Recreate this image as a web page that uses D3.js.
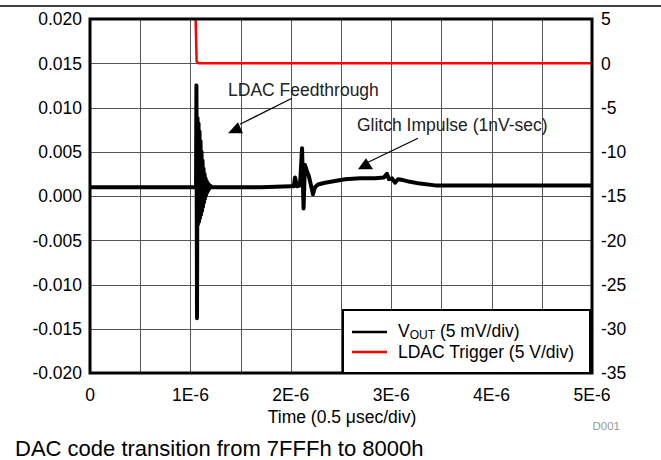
<!DOCTYPE html>
<html><head><meta charset="utf-8">
<script src="https://cdn.jsdelivr.net/npm/d3@7"></script>
<style>
html,body{margin:0;padding:0;background:#fff;}
svg{display:block;font-family:"Liberation Sans",Arial,sans-serif;}
</style></head>
<body>
<svg id="chart" width="661" height="460"></svg>
<script>
// ---- data (time in microseconds) ----
const xTicks = [0, 1, 2, 3, 4, 5];
const xTickLabels = ["0", "1E-6", "2E-6", "3E-6", "4E-6", "5E-6"];
const leftTicks = [0.020, 0.015, 0.010, 0.005, 0.000, -0.005, -0.010, -0.015, -0.020];
const rightTicks = [5, 0, -5, -10, -15, -20, -25, -30, -35];

const voutTime = [0, 0.3, 0.6, 0.9, 1.05, 1.056, 1.060, 1.066, 1.071, 1.076, 1.081, 1.086, 1.091, 1.096, 1.101, 1.106,
  1.111, 1.116, 1.121, 1.126, 1.131, 1.136, 1.141, 1.146, 1.151, 1.156, 1.161, 1.166, 1.171, 1.176, 1.181, 1.186,
  1.195, 1.215, 1.4, 1.7, 2.0, 2.030, 2.042, 2.062, 2.092, 2.112, 2.127, 2.141, 2.161, 2.181, 2.201, 2.221, 2.241,
  2.271, 2.341, 2.44, 2.54, 2.69, 2.84, 2.928, 2.958, 2.978, 3.008, 3.038, 3.068, 3.118, 3.187, 3.287, 3.436,
  3.586, 4.0, 4.5, 5.0];
const voutValue = [0.0010, 0.0010, 0.0010, 0.0010, 0.0010, 0.0010, 0.0125, -0.0138, 0.0088, -0.0032, 0.0082, -0.0029,
  0.0073, -0.0025, 0.0062, -0.0021, 0.0050, -0.0017, 0.0040, -0.0012, 0.0031, -0.0007, 0.0025, -0.0003, 0.0020,
  0.0001, 0.0017, 0.0004, 0.0015, 0.0006, 0.0013, 0.0008, 0.0012, 0.0010, 0.0010, 0.0010, 0.0011, 0.0011, 0.0021,
  0.0011, 0.0012, 0.0054, -0.0014, 0.0035, 0.0028, 0.0022, 0.0012, 0.0002, 0.0010, 0.0013, 0.0015, 0.0017, 0.0019,
  0.0020, 0.0020, 0.0021, 0.0025, 0.0019, 0.0020, 0.0015, 0.0019, 0.0018, 0.0016, 0.0014, 0.0012, 0.0012, 0.0012,
  0.0012, 0.0012];

const trigTime = [0, 1.050, 1.062, 1.080, 5.0];
const trigValue = [6, 6, 0.2, 0, 0];

const seriesNames = ["OUT (5 mV/div)", "LDAC Trigger (5 V/div)"];
const seriesColors = ["#000000", "#ff0000"];

// annotations (data units)
const annLdac = {text: "LDAC Feedthrough", textAt: [1.375, 0.0113], from: [2.012, 0.01105], to: [1.494, 0.00811],
  tri: [[1.375, 0.0071], [1.524, 0.0071], [1.474, 0.00834]]};
const annGlitch = {text: "Glitch Impulse (1nV-sec)", textAt: [2.659, 0.0073], from: [3.267, 0.00653], to: [2.769, 0.00382],
  tri: [[2.669, 0.00303], [2.819, 0.00303], [2.749, 0.00427]]};

// ---- layout ----
const svg = d3.select("#chart");
const L = 90, R = 592, T = 19, B = 373;
const x = d3.scaleLinear().domain([0, 5]).range([L, R]);
const yL = d3.scaleLinear().domain([-0.020, 0.020]).range([B, T]);
const yR = d3.scaleLinear().domain([-35, 5]).range([B, T]);
const FS = 17.5;

// top rule
svg.append("line").attr("x1", 0).attr("x2", 661).attr("y1", 6).attr("y2", 6)
  .attr("stroke", "#000").attr("stroke-width", 1.5);

// grid
const grid = svg.append("g").attr("stroke", "#555").attr("stroke-width", 1);
d3.range(0.5, 5, 0.5).forEach(t => {
  grid.append("line").attr("x1", Math.round(x(t)) + 0.5).attr("x2", Math.round(x(t)) + 0.5)
    .attr("y1", T).attr("y2", B);
});
leftTicks.slice(1, -1).forEach(v => {
  grid.append("line").attr("y1", Math.round(yL(v)) + 0.5).attr("y2", Math.round(yL(v)) + 0.5)
    .attr("x1", L).attr("x2", R);
});

// clip
svg.append("clipPath").attr("id", "clip").append("rect")
  .attr("x", L).attr("y", T).attr("width", R - L).attr("height", B - T);

// trigger line
const trig = trigTime.map((t, i) => [t, trigValue[i]]);
svg.append("path").datum(trig).attr("clip-path", "url(#clip)")
  .attr("d", d3.line().x(d => x(d[0])).y(d => yR(d[1])))
  .attr("fill", "none").attr("stroke", seriesColors[1]).attr("stroke-width", 2.5);

// vout line
const vout = voutTime.map((t, i) => [t, voutValue[i]]);
svg.append("path").datum(vout).attr("clip-path", "url(#clip)")
  .attr("d", d3.line().x(d => x(d[0])).y(d => yL(d[1])))
  .attr("fill", "none").attr("stroke", seriesColors[0]).attr("stroke-width", 4)
  .attr("stroke-linejoin", "round").attr("stroke-linecap", "butt");

// annotations
[annLdac, annGlitch].forEach(a => {
  svg.append("text").attr("x", x(a.textAt[0])).attr("y", yL(a.textAt[1]))
    .attr("font-size", FS).attr("fill", "#222").text(a.text);
  svg.append("line").attr("x1", x(a.from[0])).attr("y1", yL(a.from[1]))
    .attr("x2", x(a.to[0])).attr("y2", yL(a.to[1])).attr("stroke", "#000").attr("stroke-width", 1.2);
  svg.append("path").attr("d", "M" + a.tri.map(p => [x(p[0]), yL(p[1])].join(",")).join("L") + "Z")
    .attr("fill", "#000");
});

// frame
svg.append("rect").attr("x", L).attr("y", T).attr("width", R - L).attr("height", B - T)
  .attr("fill", "none").attr("stroke", "#000").attr("stroke-width", 3);

// left axis labels
svg.append("g").selectAll("text").data(leftTicks).join("text")
  .attr("x", L - 8).attr("y", d => yL(d)).attr("dy", "0.36em")
  .attr("text-anchor", "end").attr("font-size", FS).attr("fill", "#000")
  .text(d => d.toFixed(3));
// right axis labels
svg.append("g").selectAll("text").data(rightTicks).join("text")
  .attr("x", R + 9).attr("y", d => yR(d)).attr("dy", "0.36em")
  .attr("text-anchor", "start").attr("font-size", FS).attr("fill", "#000")
  .text(d => String(d));
// x axis labels
svg.append("g").selectAll("text").data(xTicks).join("text")
  .attr("x", d => x(d)).attr("y", 401)
  .attr("text-anchor", "middle").attr("font-size", FS).attr("fill", "#000")
  .text((d, i) => xTickLabels[i]);

// axis title
const tt = svg.append("text").attr("x", (L + R) / 2 + 1).attr("y", 423).attr("text-anchor", "middle")
  .attr("font-size", FS).attr("fill", "#000");
tt.append("tspan").text("Time (0.5 ");
tt.append("tspan").text("μ");
tt.append("tspan").text("sec/div)");

svg.append("text").attr("x", 620).attr("y", 430).attr("text-anchor", "end")
  .attr("font-size", 11.5).attr("fill", "#999").text("D001");

svg.append("text").attr("x", 15).attr("y", 456).attr("font-size", 22).attr("fill", "#000")
  .text("DAC code transition from 7FFFh to 8000h");

// legend
const lg = svg.append("g");
lg.append("rect").attr("x", 343).attr("y", 310).attr("width", 247).attr("height", B - 310)
  .attr("fill", "#fff").attr("stroke", "#000").attr("stroke-width", 2);
[332, 352].forEach((yy, i) => {
  lg.append("line").attr("x1", 352).attr("x2", 387).attr("y1", yy).attr("y2", yy)
    .attr("stroke", seriesColors[i]).attr("stroke-width", 2.5);
});
const t1 = lg.append("text").attr("x", 398).attr("y", 337).attr("font-size", FS).attr("fill", "#000");
t1.append("tspan").text("V");
t1.append("tspan").attr("font-size", 12).attr("dy", 2).text("OUT");
t1.append("tspan").attr("dy", -2).text(" " + seriesNames[0].slice(4));
lg.append("text").attr("x", 398).attr("y", 358).attr("font-size", FS).attr("fill", "#000").text(seriesNames[1]);
</script>
</body></html>
